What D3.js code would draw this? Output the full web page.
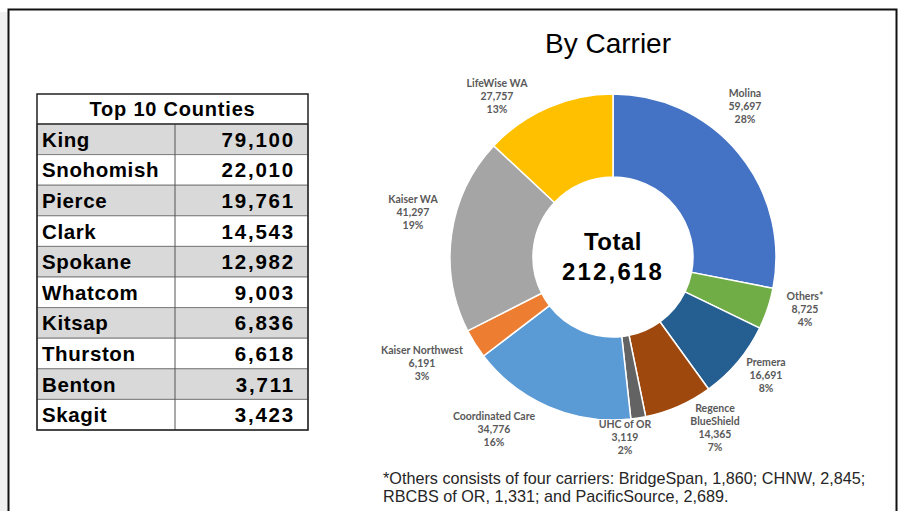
<!DOCTYPE html>
<html>
<head>
<meta charset="utf-8">
<script src="https://cdn.jsdelivr.net/npm/d3@7"></script>
<style>
  body { margin: 0; background: #fff; }
  svg { display: block; }
</style>
</head>
<body>
<div id="c1"></div>
<script>
// Data
var counties = ["King", "Snohomish", "Pierce", "Clark", "Spokane", "Whatcom", "Kitsap", "Thurston", "Benton", "Skagit"];
var countyValues = [79100, 22010, 19761, 14543, 12982, 9003, 6836, 6618, 3711, 3423];

var carriers = ["Molina", "Others*", "Premera", "Regence BlueShield", "UHC of OR", "Coordinated Care", "Kaiser Northwest", "Kaiser WA", "LifeWise WA"];
var carrierValues = [59697, 8725, 16691, 14365, 3119, 34776, 6191, 41297, 27757];
var carrierPct = ["28%", "4%", "8%", "7%", "2%", "16%", "3%", "19%", "13%"];
var carrierColors = ["#4472C4", "#70AD47", "#255E91", "#9E480E", "#636363", "#5B9BD5", "#ED7D31", "#A5A5A5", "#FFC000"];

var footnote = ["*Others consists of four carriers: BridgeSpan, 1,860; CHNW, 2,845;",
                "RBCBS of OR, 1,331; and PacificSource, 2,689."];

// Layout
var w = 903, h = 511;
var cx = 613, cy = 257, outerR = 163, innerR = 80;

// label anchors (centre of first line), placed by hand like the slide
var labelAnchors = {
    "Molina": [745, 97],
    "Others*": [805, 300],
    "Premera": [766, 366],
    "Regence BlueShield": [715, 412],
    "UHC of OR": [625, 428],
    "Coordinated Care": [494, 420],
    "Kaiser Northwest": [422, 354],
    "Kaiser WA": [413, 203],
    "LifeWise WA": [497, 87]
};

var fmt = d3.format(",");

var svg = d3.select("#c1").append("svg")
    .attr("width", w)
    .attr("height", h);

// slide frame
svg.append("rect")
    .attr("x", 0).attr("y", 12).attr("width", 8).attr("height", h)
    .attr("fill", "#f0f0f0");
svg.append("rect")
    .attr("x", 8.5).attr("y", 9.5).attr("width", 888).attr("height", h + 10)
    .attr("fill", "#fff")
    .attr("stroke", "#111")
    .attr("stroke-width", 2);

// Table
var tx = 37, ty = 94, tw = 271, headH = 30;
var y = d3.scaleBand()
    .domain(counties)
    .range([ty + headH, 430]);

var table = svg.append("g");

table.append("rect")
    .attr("x", tx).attr("y", ty).attr("width", tw).attr("height", headH)
    .attr("fill", "#fff");

table.append("text")
    .attr("x", tx + tw / 2).attr("y", ty + headH / 2 + 7)
    .attr("text-anchor", "middle")
    .attr("font-family", "Liberation Sans, Arial, sans-serif")
    .attr("font-weight", "bold")
    .attr("font-size", 20)
    .attr("letter-spacing", 0.8)
    .text("Top 10 Counties");

var rows = table.selectAll("g.row")
    .data(counties)
    .enter()
    .append("g")
    .attr("class", "row");

rows.append("rect")
    .attr("x", tx)
    .attr("y", function (d) { return y(d); })
    .attr("width", tw)
    .attr("height", y.bandwidth())
    .attr("fill", function (d, i) { return i % 2 == 0 ? "#d9d9d9" : "#fff"; })
    .attr("stroke", "#7f7f7f")
    .attr("stroke-width", 1);

rows.append("text")
    .attr("x", tx + 5)
    .attr("y", function (d) { return y(d) + y.bandwidth() / 2 + 7.5; })
    .attr("font-family", "Liberation Sans, Arial, sans-serif")
    .attr("font-weight", "bold")
    .attr("font-size", 20.5)
    .attr("letter-spacing", 0.6)
    .text(function (d) { return d; });

rows.append("text")
    .attr("x", tx + tw - 13)
    .attr("y", function (d) { return y(d) + y.bandwidth() / 2 + 7.5; })
    .attr("text-anchor", "end")
    .attr("font-family", "Liberation Sans, Arial, sans-serif")
    .attr("font-weight", "bold")
    .attr("font-size", 20.5)
    .attr("letter-spacing", 1.8)
    .text(function (d, i) { return fmt(countyValues[i]); });

// column divider + borders
table.append("line")
    .attr("x1", 175).attr("x2", 175)
    .attr("y1", ty + headH).attr("y2", 430)
    .attr("stroke", "#555").attr("stroke-width", 1);
table.append("line")
    .attr("x1", tx).attr("x2", tx + tw)
    .attr("y1", ty + headH).attr("y2", ty + headH)
    .attr("stroke", "#333").attr("stroke-width", 1.5);
table.append("rect")
    .attr("x", tx).attr("y", ty).attr("width", tw).attr("height", 430 - ty)
    .attr("fill", "none")
    .attr("stroke", "#222")
    .attr("stroke-width", 1.5);

// Title
svg.append("text")
    .attr("x", 608).attr("y", 53)
    .attr("text-anchor", "middle")
    .attr("font-family", "Liberation Sans, Arial, sans-serif")
    .attr("font-size", 28)
    .text("By Carrier");

// Donut
var pie = d3.pie().sort(null).value(function (d) { return d; });
var arc = d3.arc().innerRadius(innerR).outerRadius(outerR);
var arcs = pie(carrierValues);

var donut = svg.append("g")
    .attr("transform", "translate(" + cx + "," + cy + ")");

donut.selectAll("path")
    .data(arcs)
    .enter()
    .append("path")
    .attr("d", arc)
    .attr("fill", function (d, i) { return carrierColors[i]; })
    .attr("stroke", "#fff")
    .attr("stroke-width", 1.5);

// Total in the hole
var total = d3.sum(carrierValues);
donut.append("text")
    .attr("y", -7)
    .attr("text-anchor", "middle")
    .attr("font-family", "Liberation Sans, Arial, sans-serif")
    .attr("font-weight", "bold")
    .attr("font-size", 24)
    .attr("letter-spacing", 0.5)
    .text("Total");
donut.append("text")
    .attr("y", 23)
    .attr("text-anchor", "middle")
    .attr("font-family", "Liberation Sans, Arial, sans-serif")
    .attr("font-weight", "bold")
    .attr("font-size", 24)
    .attr("letter-spacing", 2.2)
    .text(fmt(total));

// Slice labels
var labels = svg.selectAll("text.lbl")
    .data(carriers)
    .enter()
    .append("text")
    .attr("class", "lbl")
    .attr("text-anchor", "middle")
    .attr("font-family", "Lato, sans-serif")
    .attr("font-weight", "bold")
    .attr("font-size", 10.5)
    .attr("fill", "#595959");

labels.each(function (d, i) {
    var lines = d == "Regence BlueShield" ? ["Regence", "BlueShield"] : [d];
    lines = lines.concat([fmt(carrierValues[i]), carrierPct[i]]);
    var a = labelAnchors[d];
    d3.select(this).selectAll("tspan")
        .data(lines)
        .enter()
        .append("tspan")
        .attr("x", a[0])
        .attr("y", function (t, k) { return a[1] + k * 13; })
        .text(function (t) { return t; });
});

// Footnote
svg.selectAll("text.note")
    .data(footnote)
    .enter()
    .append("text")
    .attr("class", "note")
    .attr("x", 383)
    .attr("y", function (d, i) { return 484 + i * 18; })
    .attr("font-family", "Liberation Sans, Arial, sans-serif")
    .attr("font-size", 16.2)
    .attr("fill", "#262626")
    .text(function (d) { return d; });
</script>
</body>
</html>
